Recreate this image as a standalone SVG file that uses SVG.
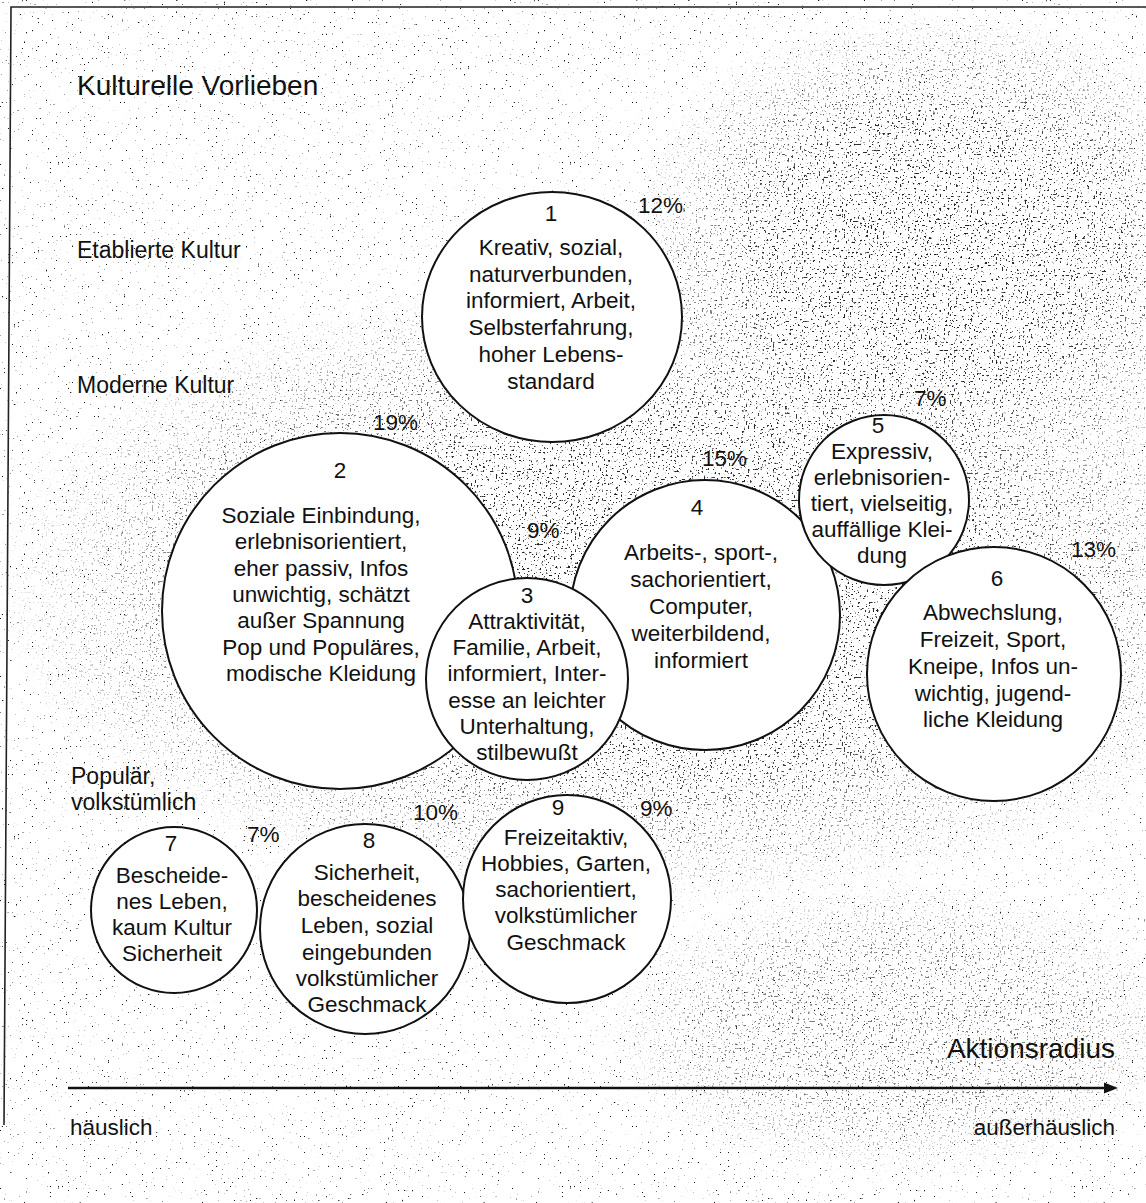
<svg xmlns="http://www.w3.org/2000/svg" width="1146" height="1203" viewBox="0 0 1146 1203">
<style>
.bg{fill:#fff}
.frame{fill:none;stroke:#222;stroke-width:1.6}
.c{fill:#fff;stroke:#111;stroke-width:2}
text{font-family:"Liberation Sans",Arial,"DejaVu Sans",sans-serif;fill:#111}
.t{font-size:22.5px;text-anchor:middle}
.p{font-size:22.5px}
.lbl{font-size:23px}
.small{font-size:22.5px}
.title{font-size:28px}
.end{text-anchor:end}
.axis{stroke:#111;stroke-width:2.4;fill:none}
</style>
<defs>
<filter id="stipSparse" filterUnits="userSpaceOnUse" x="0" y="0" width="1146" height="1203" color-interpolation-filters="sRGB">
<feTurbulence type="fractalNoise" baseFrequency="0.5" numOctaves="1" seed="5" result="n"/>
<feColorMatrix in="n" type="matrix" values="0 0 0 0 0.1  0 0 0 0 0.1  0 0 0 0 0.1  -20 0 0 0 5.5"/>
</filter>
<filter id="stipDense" filterUnits="userSpaceOnUse" x="0" y="0" width="1146" height="1203" color-interpolation-filters="sRGB">
<feTurbulence type="fractalNoise" baseFrequency="0.48" numOctaves="1" seed="17" result="n"/>
<feColorMatrix in="n" type="matrix" values="0 0 0 0 0.1  0 0 0 0 0.1  0 0 0 0 0.1  -16 0 0 0 5.85"/>
</filter>
<radialGradient id="gd" cx="0.5" cy="0.5" r="0.5">
<stop offset="0" stop-color="#fff" stop-opacity="1"/>
<stop offset="0.55" stop-color="#fff" stop-opacity="0.9"/>
<stop offset="1" stop-color="#fff" stop-opacity="0"/>
</radialGradient>
<mask id="md" maskUnits="userSpaceOnUse" x="0" y="0" width="1146" height="1203">
<ellipse cx="640" cy="590" rx="650" ry="320" fill="url(#gd)"/>
<ellipse cx="940" cy="250" rx="320" ry="240" fill="url(#gd)"/>
<ellipse cx="900" cy="1030" rx="300" ry="150" fill="url(#gd)" opacity="0.6"/>
</mask>
<marker id="arr" markerWidth="14" markerHeight="12" refX="2" refY="6" orient="auto" markerUnits="userSpaceOnUse">
<path d="M0,0.5 L14,6 L0,11.5 Z" fill="#111"/>
</marker>
</defs>

<rect class="bg" x="0" y="0" width="1146" height="1203"/>
<g id="stipple">
<rect x="11" y="8" width="1135" height="1195" fill="#000" filter="url(#stipSparse)"/>
<g mask="url(#md)">
<rect x="11" y="8" width="1135" height="1195" fill="#000" filter="url(#stipDense)"/>
</g>
</g>
<path class="frame" d="M1146,7 L11,7 L4,1125"/>

<g id="labels">
<text class="title" x="77" y="95">Kulturelle Vorlieben</text>
<text class="lbl" x="77" y="258">Etablierte Kultur</text>
<text class="lbl" x="77" y="393">Moderne Kultur</text>
<text class="lbl" x="71" y="784">Populär,</text>
<text class="lbl" x="71" y="810">volkstümlich</text>
<text class="title end" x="1115" y="1058">Aktionsradius</text>
<text class="small" x="70" y="1135">häuslich</text>
<text class="small end" x="1115" y="1135">außerhäuslich</text>
</g>

<g id="node1">
<ellipse class="c" cx="552" cy="317" rx="130" ry="125"/>
<text class="t" x="551" y="221">1</text>
<text class="t" x="551" y="255">Kreativ, sozial,</text>
<text class="t" x="551" y="282">naturverbunden,</text>
<text class="t" x="551" y="308">informiert, Arbeit,</text>
<text class="t" x="551" y="335">Selbsterfahrung,</text>
<text class="t" x="551" y="362">hoher Lebens-</text>
<text class="t" x="551" y="389">standard</text>
<text class="p" x="638" y="213">12%</text>
</g>

<g id="node2">
<circle class="c" cx="340" cy="611" r="178"/>
<text class="t" x="340" y="478">2</text>
<text class="t" x="321" y="523">Soziale Einbindung,</text>
<text class="t" x="321" y="549">erlebnisorientiert,</text>
<text class="t" x="321" y="576">eher passiv, Infos</text>
<text class="t" x="321" y="602">unwichtig, schätzt</text>
<text class="t" x="321" y="628">außer Spannung</text>
<text class="t" x="321" y="655">Pop und Populäres,</text>
<text class="t" x="321" y="681">modische Kleidung</text>
<text class="p" x="373" y="430">19%</text>
</g>

<g id="node4">
<circle class="c" cx="705" cy="615" r="135"/>
<text class="t" x="697" y="515">4</text>
<text class="t" x="701" y="560">Arbeits-, sport-,</text>
<text class="t" x="701" y="587">sachorientiert,</text>
<text class="t" x="701" y="614">Computer,</text>
<text class="t" x="701" y="641">weiterbildend,</text>
<text class="t" x="701" y="668">informiert</text>
<text class="p" x="702" y="466">15%</text>
</g>

<g id="node5">
<circle class="c" cx="884" cy="500" r="85"/>
<text class="t" x="878" y="433">5</text>
<text class="t" x="882" y="459">Expressiv,</text>
<text class="t" x="882" y="485">erlebnisorien-</text>
<text class="t" x="882" y="511">tiert, vielseitig,</text>
<text class="t" x="882" y="537">auffällige Klei-</text>
<text class="t" x="882" y="563">dung</text>
<text class="p" x="914" y="406">7%</text>
</g>

<g id="node6">
<circle class="c" cx="994" cy="674" r="127"/>
<text class="t" x="997" y="586">6</text>
<text class="t" x="993" y="620">Abwechslung,</text>
<text class="t" x="993" y="647">Freizeit, Sport,</text>
<text class="t" x="993" y="674">Kneipe, Infos un-</text>
<text class="t" x="993" y="701">wichtig, jugend-</text>
<text class="t" x="993" y="727">liche Kleidung</text>
<text class="p" x="1071" y="557">13%</text>
</g>

<g id="node3">
<circle class="c" cx="527" cy="679" r="101"/>
<text class="t" x="527" y="603">3</text>
<text class="t" x="527" y="629">Attraktivität,</text>
<text class="t" x="527" y="655">Familie, Arbeit,</text>
<text class="t" x="527" y="681">informiert, Inter-</text>
<text class="t" x="527" y="708">esse an leichter</text>
<text class="t" x="527" y="734">Unterhaltung,</text>
<text class="t" x="527" y="760">stilbewußt</text>
<text class="p" x="527" y="538">9%</text>
</g>

<g id="node7">
<circle class="c" cx="174" cy="910" r="83"/>
<text class="t" x="171" y="851">7</text>
<text class="t" x="172" y="883">Bescheide-</text>
<text class="t" x="172" y="909">nes Leben,</text>
<text class="t" x="172" y="935">kaum Kultur</text>
<text class="t" x="172" y="961">Sicherheit</text>
<text class="p" x="247" y="842">7%</text>
</g>

<g id="node8">
<circle class="c" cx="365" cy="929" r="105"/>
<text class="t" x="369" y="848">8</text>
<text class="t" x="367" y="880">Sicherheit,</text>
<text class="t" x="367" y="906">bescheidenes</text>
<text class="t" x="367" y="933">Leben, sozial</text>
<text class="t" x="367" y="960">eingebunden</text>
<text class="t" x="367" y="986">volkstümlicher</text>
<text class="t" x="367" y="1012">Geschmack</text>
<text class="p" x="413" y="820">10%</text>
</g>

<g id="node9">
<circle class="c" cx="567" cy="899" r="104"/>
<text class="t" x="558" y="815">9</text>
<text class="t" x="566" y="845">Freizeitaktiv,</text>
<text class="t" x="566" y="871">Hobbies, Garten,</text>
<text class="t" x="566" y="897">sachorientiert,</text>
<text class="t" x="566" y="923">volkstümlicher</text>
<text class="t" x="566" y="950">Geschmack</text>
<text class="p" x="640" y="816">9%</text>
</g>

<g id="connectors">
<line class="axis" x1="68" y1="1088" x2="1106" y2="1088" marker-end="url(#arr)"/>
</g>
</svg>
